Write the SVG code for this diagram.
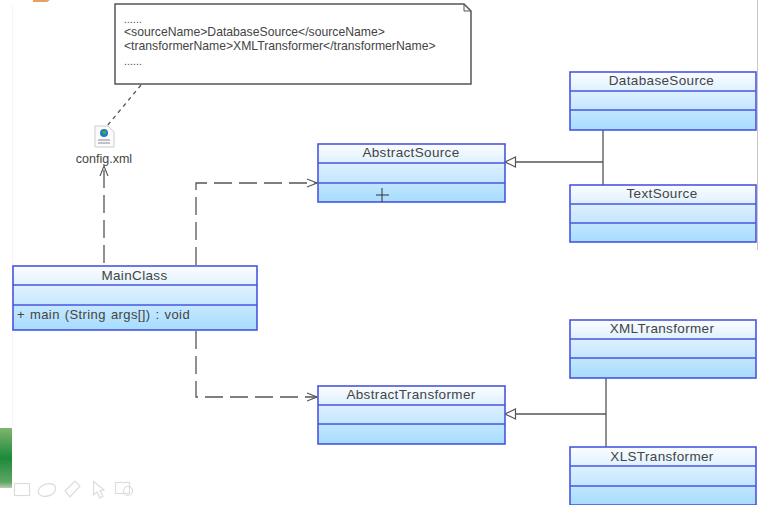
<svg xmlns="http://www.w3.org/2000/svg" width="758" height="505" viewBox="0 0 758 505">
<style>
text{font-family:"Liberation Sans",Arial,sans-serif;fill:#444}
.t{font-size:13.5px;text-anchor:middle;letter-spacing:.35px}
.b{fill:url(#g);stroke:none}
.o{fill:none;stroke:#4a55e0;stroke-width:1.6}
.d{fill:none;stroke:#555;stroke-width:1.3;stroke-dasharray:18 7}
.l{fill:none;stroke:#555;stroke-width:1.3}
.n{font-size:12.2px}
.s{font-size:10px;letter-spacing:.2px}
.i{fill:none;stroke:#dcdcdc;stroke-width:1.2}
</style>
<defs>
<linearGradient id="g" x1="0" y1="0" x2="0" y2="1"><stop offset="0" stop-color="#fbfdff"/><stop offset=".35" stop-color="#dcf0ff"/><stop offset="1" stop-color="#a6dcff"/></linearGradient>
<linearGradient id="gr" x1="0" y1="0" x2="0" y2="1"><stop offset="0" stop-color="#7fb56f"/><stop offset=".5" stop-color="#1c8a3a"/><stop offset=".9" stop-color="#5fa563"/><stop offset="1" stop-color="#b5cdb0"/></linearGradient>
<marker id="open" markerWidth="12" markerHeight="10" refX="11" refY="5" orient="auto" markerUnits="userSpaceOnUse"><path d="M1 1L11 5L1 9" fill="none" stroke="#555" stroke-width="1.1"/></marker>
<marker id="tri" markerWidth="13" markerHeight="12" refX="11.5" refY="6" orient="auto" markerUnits="userSpaceOnUse"><path d="M1 1L11.5 6L1 11Z" fill="#fff" stroke="#555" stroke-width="1.2"/></marker>
</defs>
<rect width="758" height="505" fill="#fff"/>
<path d="M12.500 5V428" stroke="#f4f4f4" fill="none"/>
<path d="M757.500 0V250" stroke="#c8c8c8" fill="none"/>
<rect x="0" y="428" width="12" height="60" fill="url(#gr)"/>
<path d="M33 0V2H47L50 0Z" fill="#e8a060"/>
<g>
<rect class="i" x="14.500" y="483.500" width="15" height="12"/>
<ellipse class="i" cx="47" cy="490" rx="9" ry="6" transform="rotate(-20 47 490)"/>
<path class="i" d="M65 491L75 481L80 486L70 497Z"/>
<path class="i" d="M93.500 481.500V495L97 492L100 498L103 496L100 491L104 490Z"/>
<rect class="i" x="115.500" y="482.500" width="14" height="11"/>
<circle class="i" cx="128" cy="491" r="4.500"/>
</g>
<g id="connectors">
<path class="d" d="M104 263V166" marker-end="url(#open)"/>
<path class="d" d="M196 265V183H317" marker-end="url(#open)"/>
<path class="d" d="M196 331V397H317" marker-end="url(#open)"/>
<path class="l" d="M141 85L107 126" stroke-dasharray="4 4"/>
<path class="l" d="M603 130V185M603 162H505" marker-end="url(#tri)"/>
<path class="l" d="M606 378V447M606 414H505" marker-end="url(#tri)"/>
</g>
<g id="note">
<path d="M115 4H464L471 11V84H115Z" fill="#fff" stroke="#555" stroke-width="1.5"/>
<path d="M464 4V11H471" fill="none" stroke="#555" stroke-width="1"/>
<text class="s" x="124" y="23">......</text>
<text class="n" x="124" y="36">&lt;sourceName&gt;DatabaseSource&lt;/sourceName&gt;</text>
<text class="n" x="124" y="50">&lt;transformerName&gt;XMLTransformer&lt;/transformerName&gt;</text>
<text class="s" x="124" y="65">......</text>
</g>
<g id="config">
<path d="M95 126H108L114 132V147H95Z" fill="#fbfbfb" stroke="#ccc"/>
<circle cx="104" cy="133" r="4" fill="#1a7fc0"/>
<path d="M102 131H106V134H103Z" fill="#5aa040"/>
<path d="M98 140H110M98 143H110" stroke="#889" fill="none"/>
<text x="104" y="163" font-size="12.500" text-anchor="middle">config.xml</text>
</g>
<g id="MainClass">
<rect class="b" x="13" y="266" width="244" height="64"/>
<rect class="o" x="13" y="266" width="244" height="64"/>
<path class="o" d="M13 285H257M13 305H257"/>
<text class="t" x="134.500" y="280">MainClass</text>
<text x="17" y="319" font-size="13" letter-spacing=".4" word-spacing="1">+  main (String args[])  : void</text>
</g>
<g id="AbstractSource">
<rect class="b" x="318" y="144" width="187" height="58"/>
<rect class="o" x="318" y="144" width="187" height="58"/>
<path class="o" d="M318 163H505M318 183H505"/>
<text class="t" x="411" y="157">AbstractSource</text>
</g>
<path d="M382 188V202M376 195H389" stroke="#333" fill="none"/>
<g id="AbstractTransformer">
<rect class="b" x="318" y="386" width="187" height="58"/>
<rect class="o" x="318" y="386" width="187" height="58"/>
<path class="o" d="M318 405H505M318 424H505"/>
<text class="t" x="411" y="399">AbstractTransformer</text>
</g>
<g id="DatabaseSource">
<rect class="b" x="570" y="72" width="186" height="58"/>
<rect class="o" x="570" y="72" width="186" height="58"/>
<path class="o" d="M570 91H756M570 110H756"/>
<text class="t" x="661.500" y="85">DatabaseSource</text>
</g>
<g id="TextSource">
<rect class="b" x="570" y="185" width="186" height="57"/>
<rect class="o" x="570" y="185" width="186" height="57"/>
<path class="o" d="M570 204H756M570 223H756"/>
<text class="t" x="662" y="198">TextSource</text>
</g>
<g id="XMLTransformer">
<rect class="b" x="570" y="320" width="186" height="58"/>
<rect class="o" x="570" y="320" width="186" height="58"/>
<path class="o" d="M570 339H756M570 358H756"/>
<text class="t" x="662" y="333">XMLTransformer</text>
</g>
<g id="XLSTransformer">
<rect class="b" x="570" y="447" width="186" height="58"/>
<rect class="o" x="570" y="447" width="186" height="58"/>
<path class="o" d="M570 466H756M570 486H756"/>
<text class="t" x="662" y="461">XLSTransformer</text>
</g>
</svg>
